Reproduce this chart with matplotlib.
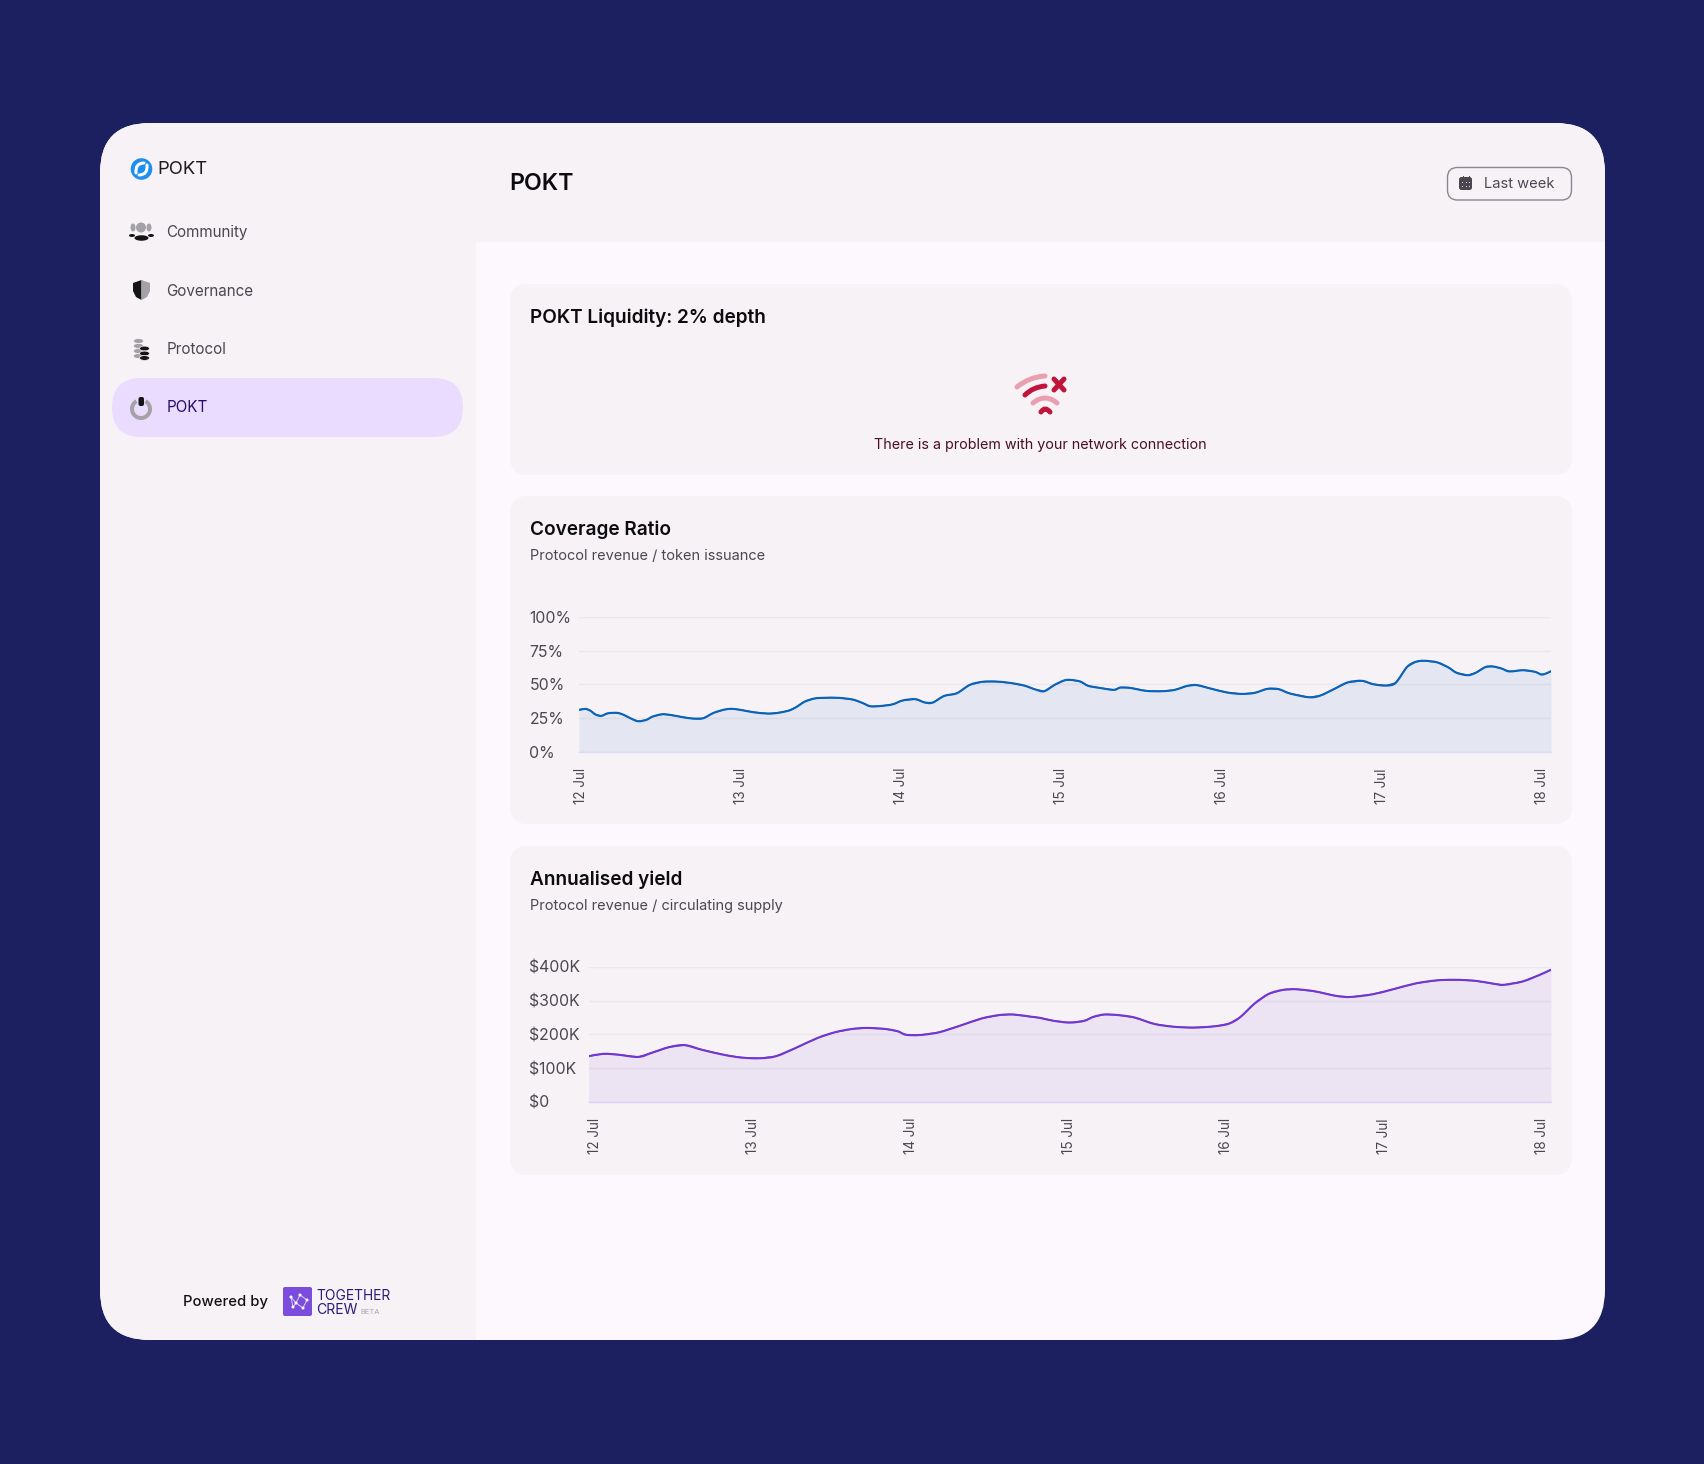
import matplotlib
matplotlib.use("Agg")
import matplotlib.pyplot as plt
import matplotlib.transforms as mtrans
from matplotlib.patches import FancyBboxPatch, Circle, Ellipse, Wedge, PathPatch, Rectangle, Polygon
from matplotlib.path import Path

# ---- data -----------------------------------------------------------------
cov_days = [0.00,0.04,0.07,0.105,0.14,0.18,0.24,0.28,0.33,0.37,0.42,0.46,0.52,0.57,0.64,0.71,0.775,0.84,0.91,0.96,
            1.02,1.09,1.18,1.24,1.31,1.355,1.41,1.47,1.53,1.62,1.71,1.77,1.82,1.89,1.96,2.02,2.10,2.16,2.21,2.28,
            2.36,2.44,2.52,2.60,2.69,2.78,2.85,2.905,2.97,3.03,3.07,3.13,3.18,3.25,3.34,3.38,3.44,3.54,3.64,3.72,
            3.80,3.86,3.95,4.05,4.14,4.22,4.30,4.37,4.44,4.56,4.63,4.71,4.80,4.89,4.96,5.04,5.10,5.17,5.225,5.28,
            5.36,5.43,5.48,5.55,5.60,5.66,5.705,5.76,5.81,5.895,5.97,6.01,6.04,6.07]
cov_pct = [31.0,31.8,30.5,27.5,26.6,28.5,28.8,27.3,24.3,22.6,23.6,26.1,27.8,27.3,25.8,24.6,24.8,28.8,31.3,31.8,
           30.8,29.3,28.3,28.8,30.5,33.0,37.2,39.5,40.0,40.0,38.7,36.2,33.7,34.0,35.2,38.0,39.0,36.5,36.5,41.4,
           43.4,49.6,51.9,52.1,51.1,49.1,46.2,44.9,49.6,52.9,53.3,52.1,48.9,47.4,45.9,47.6,47.4,45.2,44.9,45.9,
           48.9,49.4,46.7,43.9,42.9,43.7,46.7,46.4,43.2,40.4,41.7,46.2,51.4,52.6,50.1,49.1,51.1,62.8,66.7,67.5,
           66.3,62.5,58.6,56.8,58.6,62.8,63.3,61.8,59.6,60.5,59.3,57.3,58.1,59.8]
yld_days = [-0.03,0.06,0.15,0.285,0.375,0.48,0.58,0.69,0.83,0.94,1.055,1.157,1.28,1.42,1.53,1.64,1.735,1.85,1.93,1.98,
            2.07,2.19,2.32,2.46,2.57,2.66,2.78,2.83,2.92,3.02,3.11,3.17,3.24,3.33,3.43,3.555,3.67,3.80,3.94,4.03,
            4.10,4.19,4.28,4.37,4.45,4.57,4.71,4.80,4.94,5.07,5.21,5.34,5.46,5.59,5.71,5.77,5.89,6.00,6.07]
yld_k = [135,142,140,133,146,162,168,154,139,131,129,135,159,189,206,216,219,216,209,199,
         198,206,225,247,257,259,252,249,240,235,240,252,259,257,250,231,223,220,224,232,
         251,291,320,332,334,328,314,311,319,334,351,360,362,359,350,347,357,377,392]
day_labels = ["12 Jul","13 Jul","14 Jul","15 Jul","16 Jul","17 Jul","18 Jul"]
day_ticks = [0,1,2,3,4,5,6]
cov_yticks = [0,25,50,75,100]
cov_ylabels = ["0%","25%","50%","75%","100%"]
yld_yticks = [0,100,200,300,400]
yld_ylabels = ["$0","$100K","$200K","$300K","$400K"]
nav_items = ["Community","Governance","Protocol","POKT"]

# ---- style ----------------------------------------------------------------
plt.rcParams['font.family'] = ['Inter','DejaVu Sans']
W, H = 1704, 1464
NAVY, CARD, MAIN = "#1D2060", "#F7F2F6", "#FCF8FE"
PXPT = 0.72
fig = plt.figure(figsize=(W/100, H/100), dpi=100, facecolor=NAVY)
bg = fig.add_axes([0,0,1,1], zorder=0)
bg.set_xlim(0,W); bg.set_ylim(H,0); bg.axis('off')

def rrect(ax, x0, y0, x1, y1, r, fc, ec='none', lw=0, z=1):
    p = FancyBboxPatch((x0+r,y0+r), x1-x0-2*r, y1-y0-2*r, boxstyle=f"round,pad={r},rounding_size={r}",
                       fc=fc, ec=ec, lw=lw, zorder=z)
    ax.add_patch(p); return p

def stroke(ax, pts, color, lw=5, z=5):
    codes = [Path.MOVETO] + [Path.CURVE3]*(len(pts)-1)
    ax.add_patch(PathPatch(Path(pts,codes), fc='none', ec=color, lw=lw*PXPT, capstyle='round', zorder=z))

panel = rrect(bg,100,123,1605,1340,50,MAIN,z=1)
side = Rectangle((100,123),376,1217,fc=CARD,ec='none',zorder=2); bg.add_patch(side); side.set_clip_path(panel)
head = Rectangle((476,123),1129,119,fc=CARD,ec='none',zorder=2); bg.add_patch(head); head.set_clip_path(panel)

# ---- sidebar ---------------------------------------------------------------
rrect(bg,112,378,463,437,29.5,"#EADCFE",z=3)
# logo
bg.add_patch(Circle((141.5,169),10.8,fc="#1F8FEF",ec='none',zorder=4))
stroke(bg,[(136,173),(135,163),(144,163)],"white",lw=3)
stroke(bg,[(147,165),(148,175),(139,175)],"white",lw=3)
bg.text(157,170,"POKT",fontsize=18.5*PXPT,color="#1b1b1f",va='center',ha='left',fontweight=400,zorder=5)
nav_y = [232,291,349,407.5]
nav_col = ["#4B4751","#4B4751","#4B4751","#2A0A6E"]
for name,y,c in zip(nav_items,nav_y,nav_col):
    bg.text(166.5,y,name,fontsize=15.2*PXPT,color=c,va='center',ha='left',zorder=5)
# community icon
GREY,DK = "#A5A1A8","#151518"
bg.add_patch(Circle((141,227.5),5,fc=GREY,zorder=5))
bg.add_patch(Ellipse((133,227.5),5,8,fc=GREY,zorder=5)); bg.add_patch(Ellipse((149,227.5),5,8,fc=GREY,zorder=5))
bg.add_patch(Ellipse((141.5,238),14,5.5,fc=DK,zorder=5))
bg.add_patch(Ellipse((132,235.5),6,3,fc=DK,zorder=5)); bg.add_patch(Ellipse((151,235.5),6,3,fc=DK,zorder=5))
# shield
bg.add_patch(Polygon([(133,283),(141.5,280),(141.5,300),(136,297),(133,291)],fc=DK,zorder=5))
bg.add_patch(Polygon([(141.5,280),(150,283),(150,291),(147,297),(141.5,300)],fc=GREY,zorder=5))
# stacks
for y in [341,346,351,356]:
    bg.add_patch(Ellipse((138.5,y),9.5,4.2,fc=GREY,zorder=5))
for y in [348.5,353.5,358]:
    bg.add_patch(Ellipse((144.5,y),10,4.8,fc=DK,ec=CARD,lw=0.5,zorder=6))
# pokt ring
bg.add_patch(Wedge((141,409),11,-60,240,width=4,fc=GREY,zorder=5))
bg.add_patch(FancyBboxPatch((138.5,397),5.5,9,boxstyle="round,pad=0,rounding_size=2",fc=DK,ec='none',zorder=6))

# powered by
bg.text(183,1302,"Powered by",fontsize=14.8*PXPT,color="#111114",va='center',ha='left',fontweight=500,zorder=5)
rrect(bg,283,1287,312,1316,2,"#7C4DDD",z=5)
nodes = [(291,1297),(296,1303),(303,1308),(307,1300),(300,1295),(293,1307)]
for a,b in [(0,1),(1,2),(2,3),(1,4),(4,3),(5,1),(0,5)]:
    bg.plot([nodes[a][0],nodes[b][0]],[nodes[a][1],nodes[b][1]],color="#DCCDFA",lw=0.7,zorder=6)
for n in nodes:
    bg.add_patch(Circle(n,1.5,fc="white",zorder=7))
bg.text(316,1296.5,"TOGETHER",fontsize=13.8*PXPT,color="#2A1A7A",va='center',ha='left',zorder=5)
bg.text(316,1310.5,"CREW",fontsize=14*PXPT,color="#2A1A7A",va='center',ha='left',zorder=5)
bg.text(360,1312.5,"BETA",fontsize=7.5*PXPT,color="#A9A5AE",va='center',ha='left',zorder=5)

# ---- header ----------------------------------------------------------------
bg.text(509,184.5,"POKT",fontsize=23.2*PXPT,color="#0B0B10",va='center',ha='left',fontweight=600,zorder=5)
rrect(bg,1447.5,167.5,1571.5,200,10,'none',ec="#8B8692",lw=1,z=5)
rrect(bg,1459,177,1472,190,2.5,"#4B4751",z=6)
bg.text(1484,183.5,"Last week",fontsize=14.7*PXPT,color="#4B4751",va='center',ha='left',zorder=6)
for dx in (1462.5,1468.5):
    bg.add_patch(Rectangle((dx,175.5),1.2,3,fc="#4B4751",zorder=6))
for dx in (1462,1465.5,1469):
    for dy in (182,186):
        bg.add_patch(Rectangle((dx,dy),1.3,1.3,fc="#D8D4DA",zorder=7))

# ---- cards -----------------------------------------------------------------
for y0,y1 in [(284,475),(496,824),(846,1175)]:
    rrect(bg,510,y0,1572,y1,18,CARD,z=3)
bg.text(530,317.5,"POKT Liquidity: 2% depth",fontsize=19*PXPT,color="#0B0B10",va='center',ha='left',fontweight=600,zorder=5)
bg.text(530,530,"Coverage Ratio",fontsize=19*PXPT,color="#0B0B10",va='center',ha='left',fontweight=600,zorder=5)
bg.text(530,556,"Protocol revenue / token issuance",fontsize=14.5*PXPT,color="#4B4751",va='center',ha='left',zorder=5)
bg.text(530,880,"Annualised yield",fontsize=19*PXPT,color="#0B0B10",va='center',ha='left',fontweight=600,zorder=5)
bg.text(530,906,"Protocol revenue / circulating supply",fontsize=14.5*PXPT,color="#4B4751",va='center',ha='left',zorder=5)

# wifi icon
PINK,RED = "#E8A0B0","#C0143C"
stroke(bg,[(1017,387),(1029,377),(1045,376)],PINK,lw=5)
stroke(bg,[(1025,395),(1033,387),(1045,386)],RED,lw=5)
stroke(bg,[(1033,403),(1045,393),(1057,403)],PINK,lw=5)
stroke(bg,[(1041,412),(1045,406),(1050,412)],RED,lw=5)
bg.plot([1054,1064],[379,390],color=RED,lw=5*PXPT,solid_capstyle='round',zorder=5)
bg.plot([1064,1054],[379,390],color=RED,lw=5*PXPT,solid_capstyle='round',zorder=5)
bg.text(1040,444.5,"There is a problem with your network connection",fontsize=14.35*PXPT,color="#4A1028",va='center',ha='center',zorder=5)

# ---- charts ----------------------------------------------------------------
def smooth_path(xs, ys):
    """Catmull-Rom curve running through the read values (no extra values)."""
    verts = [(xs[0], ys[0])]
    n = len(xs)
    for i in range(n-1):
        a = max(i-1,0); b = min(i+2,n-1)
        verts.append((xs[i]+(xs[i+1]-xs[a])/6, ys[i]+(ys[i+1]-ys[a])/6))
        verts.append((xs[i+1]-(xs[b]-xs[i])/6, ys[i+1]-(ys[b]-ys[i])/6))
        verts.append((xs[i+1], ys[i+1]))
    return Path(verts, [Path.MOVETO]+[Path.CURVE4]*(len(verts)-1))

def chart(x0,x1,y0,y1,xs,ys,ymax,xlim,yticks,ylabels,color,base):
    ax = fig.add_axes([x0/W,1-y1/H,(x1-x0)/W,(y1-y0)/H],zorder=2)
    ax.patch.set_alpha(0)
    ax.set_xlim(*xlim); ax.set_ylim(0,ymax)
    for s in ax.spines.values(): s.set_visible(False)
    ax.set_yticks(yticks); ax.set_yticklabels(ylabels)
    ax.set_xticks(day_ticks); ax.set_xticklabels(day_labels,rotation=90)
    ax.grid(axis='y',color="#ECE7EC",lw=1.0); ax.set_axisbelow(True)
    ax.tick_params(axis='both',length=0,labelcolor="#4B4751")
    ax.tick_params(axis='y',labelsize=15.8*PXPT,pad=(x0-529.5)*PXPT)
    ax.tick_params(axis='x',labelsize=13.5*PXPT,pad=52*PXPT)
    for t in ax.get_yticklabels(): t.set_ha('left')
    shift = mtrans.ScaledTranslation(2/100,0,fig.dpi_scale_trans)
    for t in ax.get_xticklabels():
        t.set_va('bottom')
        t.set_transform(t.get_transform()+shift)
    ax.fill_between(xs,0,ys,color=color,alpha=0.08,lw=0,zorder=2)
    ax.plot(xs,ys,color=color,lw=1.4*PXPT,zorder=3,solid_joinstyle='round')
    ax.add_patch(PathPatch(smooth_path(xs,ys),fc='none',ec=color,lw=2.1*PXPT,zorder=3.2,joinstyle='round'))
    ax.axhline(0,color=base,lw=1.0,zorder=2.5,clip_on=False)
    return ax

chart(579,1551,617,751.7,cov_days,cov_pct,100,(0,6.07),cov_yticks,cov_ylabels,"#0A63B8","#D8DEEE")
chart(588.6,1551,967,1101.7,yld_days,yld_k,400,(-0.03,6.07),yld_yticks,yld_ylabels,"#7038D0","#DAD2F4")

fig.savefig("out.png",dpi=100,facecolor=NAVY)
